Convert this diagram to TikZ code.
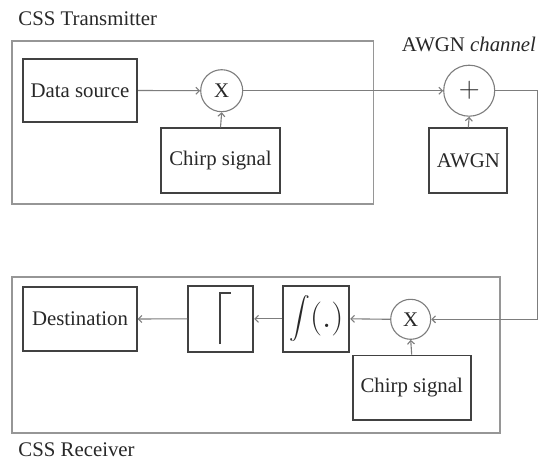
\RequirePackage{fix-cm}
\documentclass[tikz,border=0pt]{standalone}
\usepackage{exscale}
\usepackage{fontspec}
\setmainfont{Liberation Serif}
\usetikzlibrary{arrows.meta}
\definecolor{lineg}{RGB}{125,125,125}
\definecolor{boxg}{RGB}{65,65,65}
\definecolor{frameg}{RGB}{150,150,150}
\definecolor{txtg}{RGB}{40,40,40}
\begin{document}
\begin{tikzpicture}[x=1pt,y=-1pt,
  every node/.style={text=txtg, font=\fontsize{20.8}{24}\selectfont},
  blk/.style={draw=boxg, line width=1.8pt, rectangle, inner sep=0pt},
  frm/.style={draw=frameg, line width=1.6pt},
  op/.style={draw=lineg, line width=1.1pt, circle, inner sep=0pt},
  conn/.style={draw=lineg, line width=1.1pt, -{Straight Barb[length=3.5pt,width=7pt]}},
  lbl/.style={anchor=base west, inner sep=0pt}
]
\useasboundingbox[fill=white] (0,0) rectangle (539,461);

% frames
\draw[frm] (11.7,41) rectangle (373.3,204);
\draw[frm] (11.7,276.7) rectangle (500,433);

% labels
\node[lbl] (txl) at (18.3,25) {CSS Transmitter};
\node[lbl] (rxl) at (18.3,456.7) {CSS Receiver};
\node[lbl] (chl) at (401.7,51.7) {AWGN \textit{channel}};

% transmitter
\node[blk, minimum width=114.6pt, minimum height=62.4pt] (ds) at (80,90.5) {Data source};
\node[op, minimum size=42pt] (m1) at (221.7,90.7) {X};
\node[blk, minimum width=119pt, minimum height=65pt] (ch1) at (220.5,160.8) {Chirp signal};

% channel
\node[op, minimum size=51pt] (add) at (469.2,90.7) {\fontsize{29}{29}\selectfont$+$};
\node[blk, minimum width=78pt, minimum height=65pt] (awgn) at (468.3,160.8) {AWGN};

% receiver
\node[blk, minimum width=113.4pt, minimum height=64pt] (dst) at (80,319) {Destination};
\node[blk, minimum width=65pt, minimum height=65.7pt] (dec) at (220.8,318.8) {};
\node[blk, minimum width=66pt, minimum height=65.7pt] (int) at (316.3,318.8)
  {\fontsize{34}{34}\selectfont$\vcenter{\hbox{\fontsize{21}{21}\selectfont$\displaystyle\int$}}(.)$};
\node[op, minimum size=40pt] (m2) at (410.7,319.3) {X};
\node[blk, minimum width=118pt, minimum height=64.5pt] (ch2) at (411.7,387.8) {Chirp signal};

% ceiling symbol in decision block
\draw[boxg, line width=1.8pt, shift={(dec.center)}] (-1,25.2) -- (-1,-25.5) -- (10,-25.5);

\coordinate (c1) at (537.5,90.7);
\coordinate (c2) at (537.5,319.3);

% connectors
\draw[conn] (ds.east) -- (m1.west);
\draw[conn] (ch1.north) -- (m1.south);
\draw[conn] (m1.east) -- (add.west);
\draw[conn] (awgn.north) -- (add.south);
\draw[conn] (add.east) -- (c1) -- (c2) -- (m2.east);
\draw[conn] (ch2.north) -- (m2.south);
\draw[conn] (m2.west) -- (int.east);
\draw[conn] (int.west) -- (dec.east);
\draw[conn] (dec.west) -- (dst.east);
\end{tikzpicture}
\end{document}
